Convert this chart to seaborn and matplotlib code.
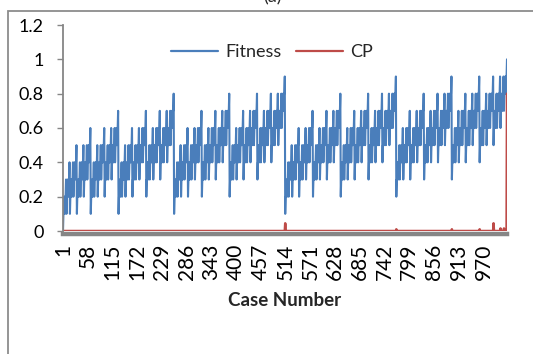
import matplotlib
matplotlib.use("Agg")
import matplotlib.pyplot as plt
import seaborn as sns
import pandas as pd
import numpy as np
from matplotlib.patches import Rectangle

# ---------------- data ----------------
# Fitness per case, in tenths (one character per case, 'a' = 10), cases 1..1024
FITNESS_TENTHS_TEXT = """
0112122312232334 1223233423343445 1223233423343445 2334344534454556 1223233423343445 2334344534454556 2334344534454556 3445455645565667
1223233423343445 2334344534454556 2334344534454556 3445455645565667 2334344534454556 3445455645565667 3445455645565667 4556566756676778
1223233423343445 2334344534454556 2334344534454556 3445455645565667 2334344534454556 3445455645565667 3445455645565667 4556566756676778
2334344534454556 3445455645565667 3445455645565667 4556566756676778 3445455645565667 4556566756676778 4556566756676778 5667677867787889
1223233423343445 2334344534454556 2334344534454556 3445455645565667 2334344534454556 3445455645565667 3445455645565667 4556566756676778
2334344534454556 3445455645565667 3445455645565667 4556566756676778 3445455645565667 4556566756676778 4556566756676778 5667677867787889
2334344534454556 3445455645565667 3445455645565667 4556566756676778 3445455645565667 4556566756676778 4556566756676778 5667677867787889
3445455645565667 4556566756676778 4556566756676778 5667677867787889 4556566756676778 5667677867787889 5667677867787889 677878897889899a
"""
fitness_tenths = [int(c, 16) for c in "".join(FITNESS_TENTHS_TEXT.split())]
fitness = [v / 10 for v in fitness_tenths]
cases = list(range(1, len(fitness) + 1))

# CP is zero except at these cases
CP_SPIKE_CASES = [513, 769, 897, 961, 993, 1009, 1017, 1024]
CP_SPIKE_VALUES = [0.045, 0.01, 0.01, 0.01, 0.045, 0.015, 0.015, 0.8]
cp = [0.0] * len(cases)
for c, v in zip(CP_SPIKE_CASES, CP_SPIKE_VALUES):
    cp[c - 1] = v

X_TICKS = [1, 58, 115, 172, 229, 286, 343, 400, 457, 514, 571, 628, 685, 742, 799, 856, 913, 970]
Y_TICKS = [0, 0.2, 0.4, 0.6, 0.8, 1.0, 1.2]
Y_TICK_LABELS = ["0", "0.2", "0.4", "0.6", "0.8", "1", "1.2"]

df = pd.DataFrame({
    "Case Number": cases * 2,
    "value": fitness + cp,
    "series": ["Fitness"] * len(cases) + ["CP"] * len(cases),
})

# ---------------- plot ----------------
sns.set_theme(style="white")
plt.rcParams["font.family"] = ["Lato", "DejaVu Sans"]

W, H = 533, 354
fig = plt.figure(figsize=(W / 100, H / 100), dpi=100)
ax = fig.add_axes([63 / W, (H - 231) / H, (507 - 63) / W, (231 - 25) / H])

BLUE = "#4A7EBB"
RED = "#BE4B48"
GRAY = "#868686"

sns.lineplot(data=df, x="Case Number", y="value", hue="series",
             palette={"Fitness": BLUE, "CP": RED}, estimator=None,
             linewidth=1.5, ax=ax)
for line in ax.get_lines():
    if line.get_label() == "CP" or line.get_color() == RED:
        line.set_linewidth(1.8)

ax.set_xlim(1, 1024)
ax.set_ylim(0, 1.2)
ax.set_xticks(X_TICKS)
ax.set_xticklabels([str(t) for t in X_TICKS])
ax.set_yticks(Y_TICKS)
ax.set_yticklabels(Y_TICK_LABELS)
ax.set_ylabel("")
ax.set_xlabel("Case Number", fontsize=13.5, fontweight="bold", labelpad=9)

for s in ["top", "right"]:
    ax.spines[s].set_visible(False)
ax.spines["left"].set_color(GRAY)
ax.spines["left"].set_linewidth(1.3)
ax.spines["bottom"].set_color(GRAY)
ax.spines["bottom"].set_linewidth(3.2)
ax.spines["bottom"].set_position(("outward", 2))
ax.tick_params(axis="y", length=4, width=1, color=GRAY, pad=10, left=True,
               labelsize=13, labelcolor="black")
ax.tick_params(axis="x", length=0, pad=7, bottom=True, labelrotation=90,
               labelsize=15, labelcolor="black")

leg = ax.legend(loc="upper center", bbox_to_anchor=(0.47, 0.985), ncol=2,
                frameon=False, fontsize=13, handlelength=2.6,
                columnspacing=0.8, handletextpad=0.4)
for line in leg.get_lines():
    line.set_linewidth(1.6)

# outer chart-area border (left and top visible)
fig.patches.append(Rectangle((8 / W, -0.1), 1.2, (H - 11) / H + 0.1,
                             transform=fig.transFigure, fill=False,
                             edgecolor="#8C8C8C", linewidth=1.3))
fig.text(272 / W, 1 - 2 / H, "(a)", ha="center", va="baseline", fontsize=13)

fig.savefig("out.png", dpi=100, facecolor="white")
